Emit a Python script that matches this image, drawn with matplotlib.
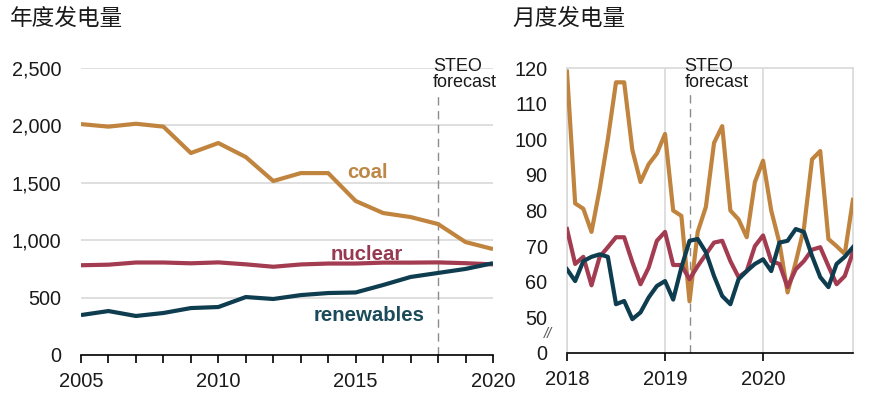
import matplotlib
matplotlib.use("Agg")
import matplotlib.pyplot as plt
import numpy as np

plt.rcParams['font.family'] = ['Liberation Sans', 'Noto Sans CJK SC', 'DejaVu Sans']

# annual generation (billion kWh)
years = list(range(2005, 2021))
coal_y = [2012, 1990, 2015, 1990, 1760, 1847, 1725, 1516, 1585, 1585,
          1342, 1237, 1202, 1141, 984, 923]
nuclear_y = [782, 787, 806, 806, 799, 807, 790, 769, 789, 797,
             797, 805, 805, 807, 800, 790]
renew_y = [348, 383, 340, 366, 409, 418, 505, 488, 522, 540,
           545, 610, 680, 715, 750, 800]

# monthly generation Jan 2018 - Dec 2020
coal_m = [119, 82, 80.5, 74, 86, 100, 116, 116, 97, 88, 93, 96,
          101.5, 80, 78.5, 54.5, 74, 81, 99, 103.7, 80, 77.5, 72.5, 88,
          94, 80, 71, 57, 65.5, 75, 94.4, 96.7, 72, 70, 67.8, 83]
nuclear_m = [74.8, 65, 67, 59, 67, 69.7, 72.5, 72.5, 65.5, 59.3, 64, 71.5,
             74, 64.7, 64.7, 60.7, 64.4, 67.7, 71, 71.5, 65.8, 61.3, 63, 70,
             73, 65.8, 65, 58.5, 63.5, 65.8, 69, 69.7, 64.4, 59.3, 61.6, 68.3]
renew_m = [63.5, 60.2, 65.8, 67, 67.7, 67, 53.7, 54.6, 49.5, 51.4, 55.6, 58.8,
           60.2, 55, 64, 71.5, 72, 68.3, 61.6, 56, 53.7, 60.7, 63, 65,
           66.3, 63, 71, 71.5, 74.8, 74, 67.2, 61.3, 58.5, 65, 67, 69.7]
months = np.arange(len(coal_m))
forecast_year = 2018
forecast_month = 15

c_coal = '#C0843E'
c_nuc = '#A33B51'
c_ren = '#0F3D50'
grid_c = '#D9D9D9'
txt_c = '#1A1A1A'

fig = plt.figure(figsize=(8.88, 3.93), dpi=100)

# ---- annual panel
ax = fig.add_axes([0.0912, 0.0967, 0.464, 0.730])
ax.plot(years, coal_y, color=c_coal, lw=3, solid_capstyle='butt', zorder=3)
ax.plot(years, nuclear_y, color=c_nuc, lw=3, solid_capstyle='butt', zorder=3)
ax.plot(years, renew_y, color=c_ren, lw=3, solid_capstyle='butt', zorder=4)
ax.set_xlim(2005, 2020)
ax.set_ylim(0, 2500)
ax.set_yticks([0, 500, 1000, 1500, 2000, 2500])
ax.set_yticklabels(['0', '500', '1,000', '1,500', '2,000', '2,500'])
ax.set_xticks([2005, 2010, 2015, 2020])
ax.set_xticks(years, minor=True)
for s in ['top', 'right', 'left']:
    ax.spines[s].set_visible(False)
ax.spines['bottom'].set_color('black')
ax.spines['bottom'].set_linewidth(1.2)
ax.grid(axis='y', color=grid_c, lw=1.2)
ax.set_axisbelow(True)
ax.tick_params(axis='y', length=0, labelsize=14.3, labelcolor=txt_c, pad=14)
ax.tick_params(axis='x', which='both', direction='out', length=6, width=1.2,
               labelsize=14.5, labelcolor=txt_c, pad=6)
ax.axvline(forecast_year, ymax=0.916, color='#8C8C8C', lw=1, ls=(0, (6, 4)), zorder=2)
ax.text(2017.81, 0.92, 'STEO\nforecast', transform=ax.get_xaxis_transform(),
        fontsize=13, color=txt_c, va='bottom', ha='left', linespacing=0.95)
ax.text(2015.45, 1590, 'coal', color='#BD8745', fontsize=14.7, fontweight='bold',
        ha='center', va='center')
ax.text(2015.4, 880, 'nuclear', color='#953A50', fontsize=14.7, fontweight='bold',
        ha='center', va='center')
ax.text(2015.5, 340, 'renewables', color='#1B4A5A', fontsize=14.7, fontweight='bold',
        ha='center', va='center')
fig.text(0.011, 0.952, '年度发电量', fontsize=16.3, color=txt_c, va='center', ha='left')

# ---- monthly panel
bx = fig.add_axes([0.6385, 0.1018, 0.322, 0.725])
bx.plot(months, coal_m, color=c_coal, lw=3, zorder=3)
bx.plot(months, nuclear_m, color=c_nuc, lw=3, zorder=3)
bx.plot(months, renew_m, color=c_ren, lw=3, zorder=4)
bx.set_xlim(0, 35)
bx.set_ylim(40, 120)
bx.set_yticks([40, 50, 60, 70, 80, 90, 100, 110, 120])
bx.set_yticklabels(['0', '50', '60', '70', '80', '90', '100', '110', '120'])
bx.set_xticks([0, 12, 24])
bx.set_xticklabels(['2018', '2019', '2020'])
for s in ['top', 'right', 'left']:
    bx.spines[s].set_color(grid_c)
    bx.spines[s].set_linewidth(1.2)
bx.spines['bottom'].set_color('black')
bx.spines['bottom'].set_linewidth(1.2)
bx.set_yticks([50, 60, 70, 80, 90, 100, 110], minor=True)
bx.tick_params(axis='y', which='minor', length=0)
bx.grid(axis='y', which='minor', color=grid_c, lw=1.2)
bx.grid(axis='x', which='major', color=grid_c, lw=1.2)
bx.set_axisbelow(True)
bx.tick_params(axis='y', length=0, labelsize=14.3, labelcolor=txt_c, pad=14)
bx.tick_params(axis='x', direction='out', length=6, width=1.2,
               labelsize=14.5, labelcolor=txt_c, pad=6)
bx.axvline(forecast_month, ymax=0.912, color='#8C8C8C', lw=1, ls=(0, (6, 4)), zorder=2)
bx.text(14.4, 0.92, 'STEO\nforecast', transform=bx.get_xaxis_transform(),
        fontsize=13, color=txt_c, va='bottom', ha='left', linespacing=0.95)
bx.text(-2.3, 45.3, '//', fontsize=10.5, color='#555555', ha='center', va='center',
        style='italic')
fig.text(0.577, 0.952, '月度发电量', fontsize=16.3, color=txt_c, va='center', ha='left')

fig.savefig('out.png', dpi=100)
